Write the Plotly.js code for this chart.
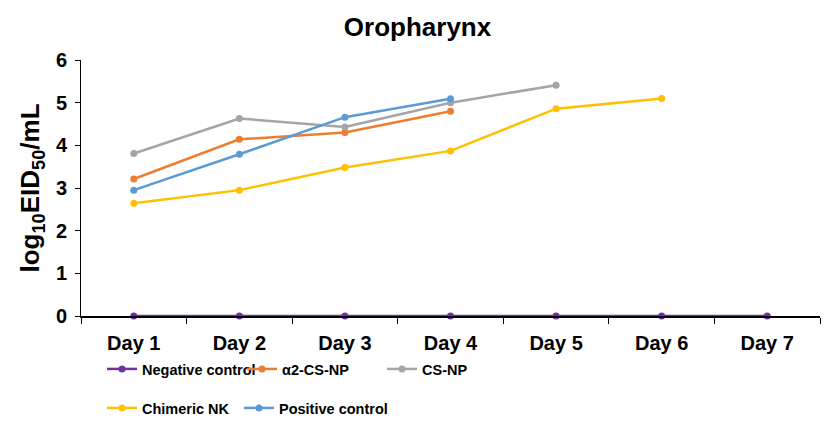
<!DOCTYPE html>
<html>
<head>
<meta charset="utf-8">
<script src="https://cdn.plot.ly/plotly-3.0.1.min.js"></script>
<style>html,body{margin:0;padding:0;background:#fff;}#chart{width:835px;height:432px;}</style>
</head>
<body>
<div id="chart"></div>
<script>
const days = ["Day 1", "Day 2", "Day 3", "Day 4", "Day 5", "Day 6", "Day 7"];
const negativeControl = [0, 0, 0, 0, 0, 0, 0];
const alpha2CSNP = [3.21, 4.14, 4.30, 4.80, null, null, null];
const csNP = [3.81, 4.63, 4.43, 5.00, 5.41, null, null];
const chimericNK = [2.64, 2.95, 3.48, 3.87, 4.86, 5.10, null];
const positiveControl = [2.95, 3.79, 4.66, 5.09, null, null, null];
const yTicks = [0, 1, 2, 3, 4, 5, 6];

function tr(name, y, color, legend) {
  return {
    type: "scatter", mode: "lines+markers", name: name, x: days, y: y,
    line: {color: color, width: 2.5}, marker: {color: color, size: 7},
    cliponaxis: false, legend: legend, connectgaps: false
  };
}
const data = [
  tr("Negative control", negativeControl, "#7030A0", "legend"),
  tr("α2-CS-NP", alpha2CSNP, "#ED7D31", "legend"),
  tr("CS-NP", csNP, "#A5A5A5", "legend"),
  tr("Chimeric NK", chimericNK, "#FFC000", "legend2"),
  tr("Positive control", positiveControl, "#5B9BD5", "legend3")
];
const FF = "Liberation Sans, Arial, sans-serif";
const legFont = {family: FF, size: 14.5, color: "#000", weight: "bold"};
function leg(x, y, ew) {
  return {orientation: "h", xref: "container", yref: "container", x: x, xanchor: "left",
          y: y, yanchor: "middle", entrywidth: ew, font: legFont,
          bgcolor: "rgba(0,0,0,0)", itemwidth: 30};
}
const layout = {
  width: 835, height: 432,
  margin: {l: 81, r: 15, t: 60, b: 116},
  paper_bgcolor: "#fff", plot_bgcolor: "#fff",
  font: {family: FF, color: "#000"},
  title: {text: "<b>Oropharynx</b>", x: 0.5, xref: "container", xanchor: "center", y: 0.937, yanchor: "middle",
          font: {size: 26, family: FF, color: "#000"}},
  xaxis: {
    type: "category", categoryarray: days, range: [-0.5, 6.5],
    showline: true, linecolor: "#000", linewidth: 1.5,
    ticks: "outside", tickson: "boundaries", ticklen: 6, tickcolor: "#000",
    showgrid: false, zeroline: false, ticklabelstandoff: 8,
    tickfont: {size: 20, weight: "bold", family: FF, color: "#000"}
  },
  yaxis: {
    range: [0, 6], tickvals: yTicks, ticktext: yTicks.map(String),
    showline: true, linecolor: "#000", linewidth: 1,
    ticks: "outside", ticklen: 5, tickcolor: "#000",
    showgrid: false, zeroline: false, ticklabelstandoff: 4,
    tickfont: {size: 20, weight: "bold", family: FF, color: "#000"},
    title: {text: "<b>log<sub>10</sub>EID<sub>50</sub>/mL</b>", standoff: 8,
            font: {size: 26, family: FF, color: "#000"}}
  },
  showlegend: true,
  legend: leg(102 / 835, 1 - 369 / 432, 95),
  legend2: leg(102 / 835, 1 - 408 / 432, 0),
  legend3: leg(239 / 835, 1 - 408 / 432, 0)
};
Plotly.newPlot("chart", data, layout, {displayModeBar: false, staticPlot: true});
</script>
</body>
</html>
